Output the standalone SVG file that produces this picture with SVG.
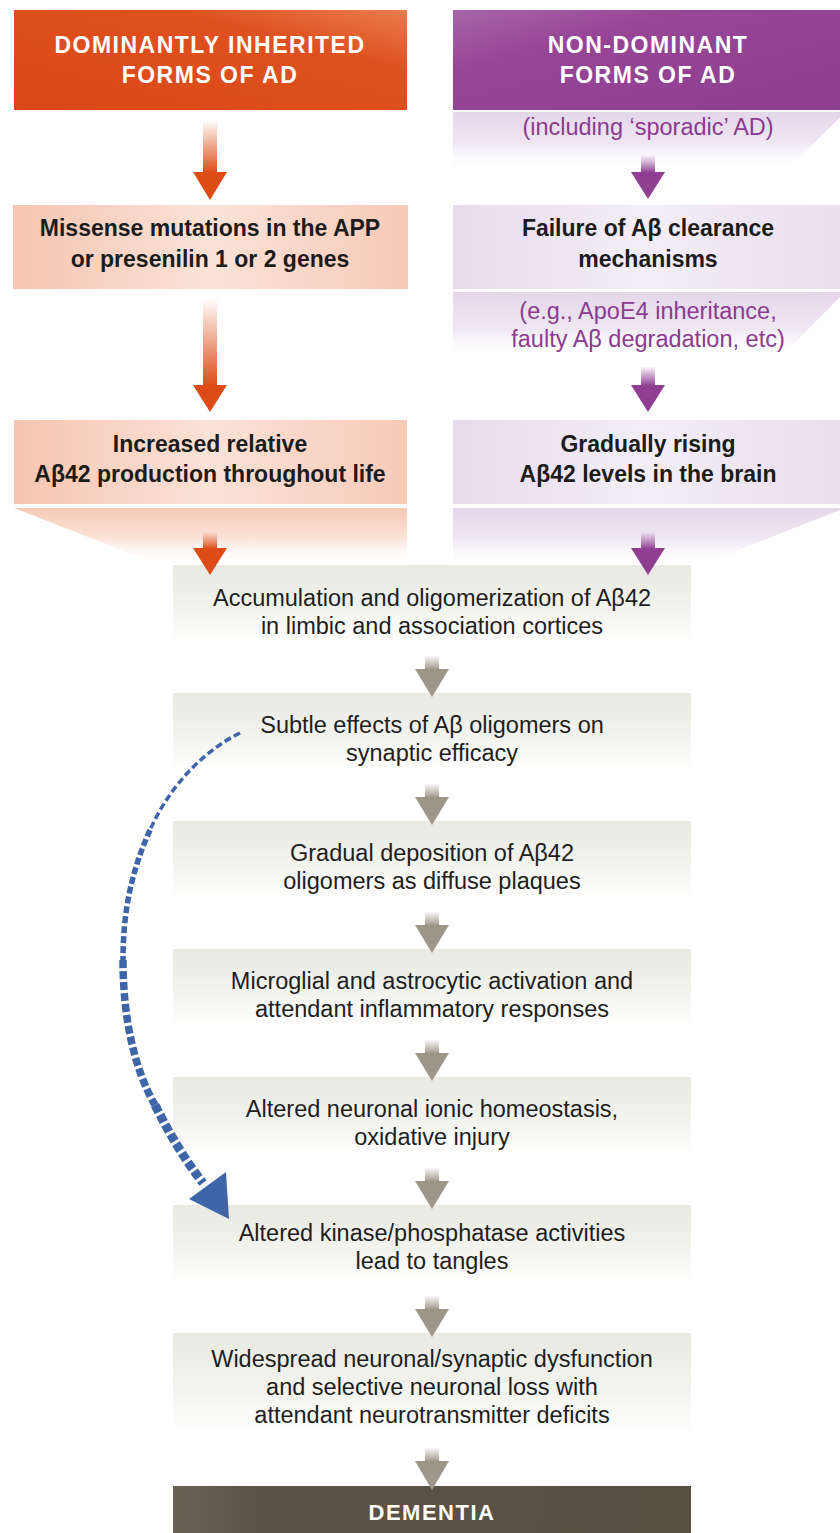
<svg xmlns="http://www.w3.org/2000/svg" width="840" height="1533" viewBox="0 0 840 1533">
<defs>
<style>
.hdr{font-family:"Liberation Sans",Arial,sans-serif;font-weight:bold;font-size:23px;fill:#ffffff;letter-spacing:1.5px;text-anchor:middle}
.bold{font-family:"Liberation Sans",Arial,sans-serif;font-weight:bold;font-size:23px;fill:#1c1c1c;text-anchor:middle}
.purp{font-family:"Liberation Sans",Arial,sans-serif;font-size:23.5px;fill:#8c3b90;text-anchor:middle}
.main{font-family:"Liberation Sans",Arial,sans-serif;font-size:23.5px;fill:#1e1e1e;text-anchor:middle}
.dem{font-family:"Liberation Sans",Arial,sans-serif;font-weight:bold;font-size:22px;fill:#ffffff;letter-spacing:1.5px;text-anchor:middle}
.blue{fill:none;stroke:#3d65a8;stroke-linecap:butt}
</style>
<linearGradient id="gOrangeHdr" x1="0" y1="1" x2="1" y2="0">
<stop offset="0" stop-color="#db4716"/><stop offset="0.7" stop-color="#df5120"/><stop offset="1" stop-color="#ea7c4e"/>
</linearGradient>
<linearGradient id="gPurpleHdr" x1="0" y1="0" x2="1" y2="1">
<stop offset="0" stop-color="#a865a8"/><stop offset="0.3" stop-color="#974696"/><stop offset="1" stop-color="#8e3e91"/>
</linearGradient>
<linearGradient id="gPeach" x1="0" y1="0" x2="1" y2="0">
<stop offset="0" stop-color="#f6c5b1"/><stop offset="0.5" stop-color="#fbe2d7"/><stop offset="1" stop-color="#f7cab7"/>
</linearGradient>
<linearGradient id="gLav" x1="0" y1="0" x2="1" y2="0">
<stop offset="0" stop-color="#e6dcec"/><stop offset="0.5" stop-color="#f3eef6"/><stop offset="1" stop-color="#e8dfee"/>
</linearGradient>
<linearGradient id="gLavBand" x1="0" y1="0" x2="0" y2="1">
<stop offset="0" stop-color="#e4d6ea"/><stop offset="0.55" stop-color="#efe8f3"/><stop offset="1" stop-color="#ffffff" stop-opacity="0"/>
</linearGradient>
<linearGradient id="gPeachBand" x1="0" y1="0" x2="0" y2="1">
<stop offset="0" stop-color="#f8c9b6"/><stop offset="0.5" stop-color="#fbe1d6"/><stop offset="1" stop-color="#ffffff" stop-opacity="0"/>
</linearGradient>
<linearGradient id="gGrey" x1="0" y1="0" x2="0" y2="1">
<stop offset="0" stop-color="#e9e9e3"/><stop offset="0.6" stop-color="#f4f4f0"/><stop offset="1" stop-color="#ffffff"/>
</linearGradient>
<linearGradient id="gDem" x1="0" y1="0" x2="1" y2="0">
<stop offset="0" stop-color="#6a6255"/><stop offset="0.15" stop-color="#5c5448"/><stop offset="1" stop-color="#574f42"/>
</linearGradient>
<linearGradient id="fOr" x1="0" y1="0" x2="0" y2="1">
<stop offset="0" stop-color="#dd4b16" stop-opacity="0"/><stop offset="1" stop-color="#dd4b16"/>
</linearGradient>
<linearGradient id="fPu" x1="0" y1="0" x2="0" y2="1">
<stop offset="0" stop-color="#8f3e92" stop-opacity="0"/><stop offset="1" stop-color="#8f3e92"/>
</linearGradient>
<linearGradient id="fGr" x1="0" y1="0" x2="0" y2="1">
<stop offset="0" stop-color="#9d978a" stop-opacity="0"/><stop offset="1" stop-color="#9d978a"/>
</linearGradient>
</defs>
<rect width="840" height="1533" fill="#ffffff"/>

<!-- Left column -->
<g id="node-dominant">
<rect x="14" y="10" width="393" height="100" fill="url(#gOrangeHdr)"/>
<text class="hdr" x="210" y="53">DOMINANTLY INHERITED</text>
<text class="hdr" x="210" y="83">FORMS OF AD</text>
</g>
<g id="node-missense">
<rect x="13" y="205" width="395" height="84" fill="url(#gPeach)"/>
<text class="bold" x="210" y="236">Missense mutations in the APP</text>
<text class="bold" x="210" y="267">or presenilin 1 or 2 genes</text>
</g>
<g id="node-increased">
<rect x="14" y="420" width="393" height="84" fill="url(#gPeach)"/>
<text class="bold" x="210" y="452">Increased relative</text>
<text class="bold" x="210" y="482">Aβ42 production throughout life</text>
<polygon points="14,508 407,508 407,566 162,566" fill="url(#gPeachBand)"/>
</g>

<!-- Right column -->
<g id="node-nondominant">
<rect x="453" y="10" width="387" height="100" fill="url(#gPurpleHdr)"/>
<text class="hdr" x="648" y="53">NON-DOMINANT</text>
<text class="hdr" x="648" y="83">FORMS OF AD</text>
<polygon points="453,112 840,112 840,117 788,170 453,170" fill="url(#gLavBand)"/>
<text class="purp" x="648" y="135">(including ‘sporadic’ AD)</text>
</g>
<g id="node-failure">
<rect x="453" y="205" width="387" height="84" fill="url(#gLav)"/>
<text class="bold" x="648" y="236">Failure of Aβ clearance</text>
<text class="bold" x="648" y="267">mechanisms</text>
<polygon points="453,292 840,292 840,297 778,360 453,360" fill="url(#gLavBand)"/>
<text class="purp" x="648" y="319">(e.g., ApoE4 inheritance,</text>
<text class="purp" x="648" y="347">faulty Aβ degradation, etc)</text>
</g>
<g id="node-rising">
<rect x="453" y="420" width="387" height="84" fill="url(#gLav)"/>
<text class="bold" x="648" y="452">Gradually rising</text>
<text class="bold" x="648" y="482">Aβ42 levels in the brain</text>
<polygon points="453,508 840,508 840,510 698,566 453,566" fill="url(#gLavBand)"/>
</g>

<!-- Central column -->
<g id="node-accumulation">
<rect x="173" y="565" width="518" height="78" fill="url(#gGrey)"/>
<text class="main" x="432" y="606">Accumulation and oligomerization of Aβ42</text>
<text class="main" x="432" y="634">in limbic and association cortices</text>
</g>
<g id="node-subtle">
<rect x="173" y="693" width="518" height="78" fill="url(#gGrey)"/>
<text class="main" x="432" y="733">Subtle effects of Aβ oligomers on</text>
<text class="main" x="432" y="761">synaptic efficacy</text>
</g>
<g id="node-deposition">
<rect x="173" y="821" width="518" height="78" fill="url(#gGrey)"/>
<text class="main" x="432" y="861">Gradual deposition of Aβ42</text>
<text class="main" x="432" y="889">oligomers as diffuse plaques</text>
</g>
<g id="node-microglial">
<rect x="173" y="949" width="518" height="78" fill="url(#gGrey)"/>
<text class="main" x="432" y="989">Microglial and astrocytic activation and</text>
<text class="main" x="432" y="1017">attendant inflammatory responses</text>
</g>
<g id="node-ionic">
<rect x="173" y="1077" width="518" height="78" fill="url(#gGrey)"/>
<text class="main" x="432" y="1117">Altered neuronal ionic homeostasis,</text>
<text class="main" x="432" y="1145">oxidative injury</text>
</g>
<g id="node-kinase">
<rect x="173" y="1205" width="518" height="78" fill="url(#gGrey)"/>
<text class="main" x="432" y="1241">Altered kinase/phosphatase activities</text>
<text class="main" x="432" y="1269">lead to tangles</text>
</g>
<g id="node-widespread">
<rect x="173" y="1333" width="518" height="100" fill="url(#gGrey)"/>
<text class="main" x="432" y="1367">Widespread neuronal/synaptic dysfunction</text>
<text class="main" x="432" y="1395">and selective neuronal loss with</text>
<text class="main" x="432" y="1423">attendant neurotransmitter deficits</text>
</g>
<g id="node-dementia">
<rect x="173" y="1486" width="518" height="47" fill="url(#gDem)"/>
<text class="dem" x="432" y="1520">DEMENTIA</text>
</g>

<!-- Connectors -->
<g id="connectors">
<!-- orange -->
<rect x="203" y="120" width="14" height="53" fill="url(#fOr)"/>
<polygon points="193,172 227,172 210,200" fill="#dd4b16"/>
<rect x="203" y="298" width="14" height="88" fill="url(#fOr)"/>
<polygon points="193,385 227,385 210,412" fill="#dd4b16"/>
<rect x="203" y="532" width="14" height="17" fill="url(#fOr)"/>
<polygon points="193,548 227,548 210,575" fill="#dd4b16"/>
<!-- purple -->
<rect x="641" y="155" width="14" height="18" fill="url(#fPu)"/>
<polygon points="631,172 665,172 648,199" fill="#8f3e92"/>
<rect x="641" y="366" width="14" height="20" fill="url(#fPu)"/>
<polygon points="631,385 665,385 648,412" fill="#8f3e92"/>
<rect x="641" y="532" width="14" height="17" fill="url(#fPu)"/>
<polygon points="631,548 665,548 648,575" fill="#8f3e92"/>
<!-- grey -->
<rect x="425" y="655" width="14" height="15" fill="url(#fGr)"/>
<polygon points="415,669 449,669 432,697" fill="#9d978a"/>
<rect x="425" y="783" width="14" height="15" fill="url(#fGr)"/>
<polygon points="415,797 449,797 432,825" fill="#9d978a"/>
<rect x="425" y="911" width="14" height="15" fill="url(#fGr)"/>
<polygon points="415,925 449,925 432,953" fill="#9d978a"/>
<rect x="425" y="1039" width="14" height="15" fill="url(#fGr)"/>
<polygon points="415,1053 449,1053 432,1081" fill="#9d978a"/>
<rect x="425" y="1167" width="14" height="15" fill="url(#fGr)"/>
<polygon points="415,1181 449,1181 432,1209" fill="#9d978a"/>
<rect x="425" y="1295" width="14" height="15" fill="url(#fGr)"/>
<polygon points="415,1309 449,1309 432,1337" fill="#9d978a"/>
<rect x="425" y="1447" width="14" height="15" fill="url(#fGr)"/>
<polygon points="415,1461 449,1461 432,1490" fill="#9d978a"/>
<!-- blue dashed feedback -->
<path class="blue" d="M240,733 C205,750 170,785 150,830" stroke-width="3.5" stroke-dasharray="7 3.5"/>
<path class="blue" d="M150,830 C132,870 123,910 123,960" stroke-width="5.5" stroke-dasharray="7 3"/>
<path class="blue" d="M123,960 C123,1020 135,1070 155,1105" stroke-width="7.5" stroke-dasharray="8 3"/>
<path class="blue" d="M155,1105 C170,1135 185,1160 203,1183" stroke-width="9" stroke-dasharray="8 3"/>
<polygon points="189,1199 226,1172 229,1219" fill="#3d65a8"/>
</g>
</svg>
